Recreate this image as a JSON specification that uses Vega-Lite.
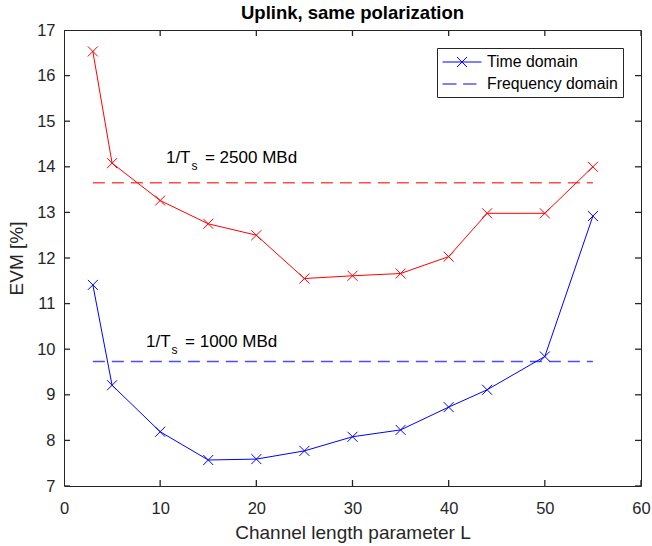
{
  "$schema": "https://vega.github.io/schema/vega-lite/v6.json",
  "width": 577,
  "height": 456,
  "autosize": {"type": "none"},
  "padding": {"left": 64, "top": 30, "right": 11, "bottom": 60},
  "background": "white",
  "title": {"text": "Uplink, same polarization", "font": "Liberation Sans", "fontSize": 18.5, "fontWeight": "bold", "color": "#000000", "anchor": "middle", "baseline": "alphabetic", "offset": 8, "dy": 23},
  "config": {
    "view": {"stroke": "#262626", "strokeWidth": 1},
    "axis": {
      "domain": false, "ticks": false, "labelColor": "#262626", "titleColor": "#262626",
      "labelFont": "Liberation Sans", "titleFont": "Liberation Sans", "labelFontSize": 16.5, "titleFontSize": 19,
      "titleFontWeight": "normal", "grid": false, "labelFlush": false
    }
  },
  "datasets": {
    "series": [
      {"rate": "2500 MBd", "L": 3, "EVM": 16.53},
      {"rate": "2500 MBd", "L": 5, "EVM": 14.08},
      {"rate": "2500 MBd", "L": 10, "EVM": 13.26},
      {"rate": "2500 MBd", "L": 15, "EVM": 12.75},
      {"rate": "2500 MBd", "L": 20, "EVM": 12.5},
      {"rate": "2500 MBd", "L": 25, "EVM": 11.55},
      {"rate": "2500 MBd", "L": 30, "EVM": 11.61},
      {"rate": "2500 MBd", "L": 35, "EVM": 11.66},
      {"rate": "2500 MBd", "L": 40, "EVM": 12.03},
      {"rate": "2500 MBd", "L": 44, "EVM": 12.98},
      {"rate": "2500 MBd", "L": 50, "EVM": 12.98},
      {"rate": "2500 MBd", "L": 55, "EVM": 14.0},
      {"rate": "1000 MBd", "L": 3, "EVM": 11.41},
      {"rate": "1000 MBd", "L": 5, "EVM": 9.21},
      {"rate": "1000 MBd", "L": 10, "EVM": 8.19},
      {"rate": "1000 MBd", "L": 15, "EVM": 7.57},
      {"rate": "1000 MBd", "L": 20, "EVM": 7.59},
      {"rate": "1000 MBd", "L": 25, "EVM": 7.77},
      {"rate": "1000 MBd", "L": 30, "EVM": 8.08},
      {"rate": "1000 MBd", "L": 35, "EVM": 8.23},
      {"rate": "1000 MBd", "L": 40, "EVM": 8.73},
      {"rate": "1000 MBd", "L": 44, "EVM": 9.11},
      {"rate": "1000 MBd", "L": 50, "EVM": 9.84},
      {"rate": "1000 MBd", "L": 55, "EVM": 12.92}
    ],
    "ref": [
      {"rate": "2500 MBd", "L": 3, "EVM": 13.65},
      {"rate": "2500 MBd", "L": 55, "EVM": 13.65},
      {"rate": "1000 MBd", "L": 3, "EVM": 9.73},
      {"rate": "1000 MBd", "L": 55, "EVM": 9.73}
    ],
    "notes": [
      {"L": 10.6, "EVM": 14.08, "a": "1/T", "b": "s", "c": "= 2500 MBd"},
      {"L": 8.53, "EVM": 10.05, "a": "1/T", "b": "s", "c": "= 1000 MBd"}
    ],
    "leg": [
      {"kind": "Time domain"},
      {"kind": "Frequency domain"}
    ],
    "xt": [{"v": 0}, {"v": 10}, {"v": 20}, {"v": 30}, {"v": 40}, {"v": 50}, {"v": 60}],
    "yt": [{"v": 7}, {"v": 8}, {"v": 9}, {"v": 10}, {"v": 11}, {"v": 12}, {"v": 13}, {"v": 14}, {"v": 15}, {"v": 16}, {"v": 17}]
  },
  "layer": [
    {
      "data": {"name": "ref"},
      "mark": {"type": "line", "strokeDash": [12, 7], "strokeWidth": 1.6, "opacity": 0.7},
      "encoding": {
        "x": {"field": "L", "type": "quantitative", "scale": {"domain": [0, 60], "nice": false, "zero": false},
              "axis": {"orient": "bottom", "values": [0, 10, 20, 30, 40, 50, 60], "title": "Channel length parameter L", "labelPadding": 14, "titlePadding": 7}},
        "y": {"field": "EVM", "type": "quantitative", "scale": {"domain": [7, 17], "nice": false, "zero": false},
              "axis": {"orient": "left", "values": [7, 8, 9, 10, 11, 12, 13, 14, 15, 16, 17], "title": "EVM [%]", "labelPadding": 9, "titlePadding": 10}},
        "color": {"field": "rate", "type": "nominal", "scale": {"domain": ["2500 MBd", "1000 MBd"], "range": ["#ff0000", "#0000ff"]}, "legend": null},
        "detail": {"field": "rate"}
      }
    },
    {
      "data": {"name": "series"},
      "mark": {"type": "line", "strokeWidth": 1},
      "encoding": {
        "x": {"field": "L", "type": "quantitative", "axis": {"orient": "top", "values": [0, 10, 20, 30, 40, 50, 60], "labels": false, "title": null, "minExtent": 0, "maxExtent": 0, "labelPadding": 0}},
        "y": {"field": "EVM", "type": "quantitative", "axis": {"orient": "right", "values": [7, 8, 9, 10, 11, 12, 13, 14, 15, 16, 17], "labels": false, "title": null, "minExtent": 0, "maxExtent": 0, "labelPadding": 0}},
        "color": {"field": "rate", "type": "nominal", "legend": null}
      }
    },
    {
      "data": {"name": "series"},
      "mark": {"type": "point", "shape": "M-1,-1L1,1M-1,1L1,-1", "filled": false, "size": 100, "strokeWidth": 1, "opacity": 1},
      "encoding": {
        "x": {"field": "L", "type": "quantitative", "axis": null},
        "y": {"field": "EVM", "type": "quantitative", "axis": null},
        "color": {"field": "rate", "type": "nominal", "legend": null}
      }
    },
    {
      "data": {"name": "xt"},
      "mark": {"type": "tick", "orient": "vertical", "size": 12, "thickness": 1.3, "color": "#262626", "opacity": 1, "clip": true},
      "encoding": {
        "x": {"field": "v", "type": "quantitative", "axis": null},
        "y": {"datum": 7, "type": "quantitative", "axis": null}
      }
    },
    {
      "data": {"name": "xt"},
      "mark": {"type": "tick", "orient": "vertical", "size": 12, "thickness": 1.3, "color": "#262626", "opacity": 1, "clip": true},
      "encoding": {
        "x": {"field": "v", "type": "quantitative", "axis": null},
        "y": {"datum": 17, "type": "quantitative", "axis": null}
      }
    },
    {
      "data": {"name": "yt"},
      "mark": {"type": "tick", "orient": "horizontal", "size": 12, "thickness": 1.3, "color": "#262626", "opacity": 1, "clip": true},
      "encoding": {
        "y": {"field": "v", "type": "quantitative", "axis": null},
        "x": {"datum": 0, "type": "quantitative", "axis": null}
      }
    },
    {
      "data": {"name": "yt"},
      "mark": {"type": "tick", "orient": "horizontal", "size": 12, "thickness": 1.3, "color": "#262626", "opacity": 1, "clip": true},
      "encoding": {
        "y": {"field": "v", "type": "quantitative", "axis": null},
        "x": {"datum": 60, "type": "quantitative", "axis": null}
      }
    },
    {
      "data": {"name": "notes"},
      "mark": {"type": "text", "align": "left", "baseline": "alphabetic", "font": "Liberation Sans", "fontSize": 17, "color": "#000000"},
      "encoding": {
        "x": {"field": "L", "type": "quantitative", "axis": null},
        "y": {"field": "EVM", "type": "quantitative", "axis": null},
        "text": {"field": "a"}
      }
    },
    {
      "data": {"name": "notes"},
      "mark": {"type": "text", "align": "left", "baseline": "alphabetic", "font": "Liberation Sans", "fontSize": 12, "color": "#000000", "dx": 25.5, "dy": 7},
      "encoding": {
        "x": {"field": "L", "type": "quantitative", "axis": null},
        "y": {"field": "EVM", "type": "quantitative", "axis": null},
        "text": {"field": "b"}
      }
    },
    {
      "data": {"name": "notes"},
      "mark": {"type": "text", "align": "left", "baseline": "alphabetic", "font": "Liberation Sans", "fontSize": 17, "color": "#000000", "dx": 39},
      "encoding": {
        "x": {"field": "L", "type": "quantitative", "axis": null},
        "y": {"field": "EVM", "type": "quantitative", "axis": null},
        "text": {"field": "c"}
      }
    },
    {
      "data": {"name": "leg"},
      "mark": {"type": "point", "filled": false, "color": "#0000ff", "opacity": 0, "strokeWidth": 1, "size": 1},
      "encoding": {
        "x": {"datum": 30, "type": "quantitative", "axis": null},
        "y": {"datum": 12, "type": "quantitative", "axis": null},
        "shape": {
          "field": "kind", "type": "nominal",
          "scale": {"domain": ["Time domain", "Frequency domain"], "range": ["M-1,0L3.59,0M0.71,-0.59L1.88,0.59M0.71,0.59L1.88,-0.59", "M-1,0L0.65,0M1.42,0L3,0"]},
          "legend": {
            "title": null, "orient": "none", "legendX": 373, "legendY": 18,
            "symbolSize": 289, "symbolStrokeWidth": 1, "symbolStrokeColor": "#0000ff", "symbolFillColor": "transparent", "symbolOpacity": 1,
            "labelFont": "Liberation Sans", "labelFontSize": 15.8, "labelColor": "#000000", "labelOffset": 27,
            "padding": 5, "rowPadding": 5, "strokeColor": "#262626", "fillColor": "white"
          }
        }
      }
    }
  ],
  "resolve": {"axis": {"x": "independent", "y": "independent"}}
}
